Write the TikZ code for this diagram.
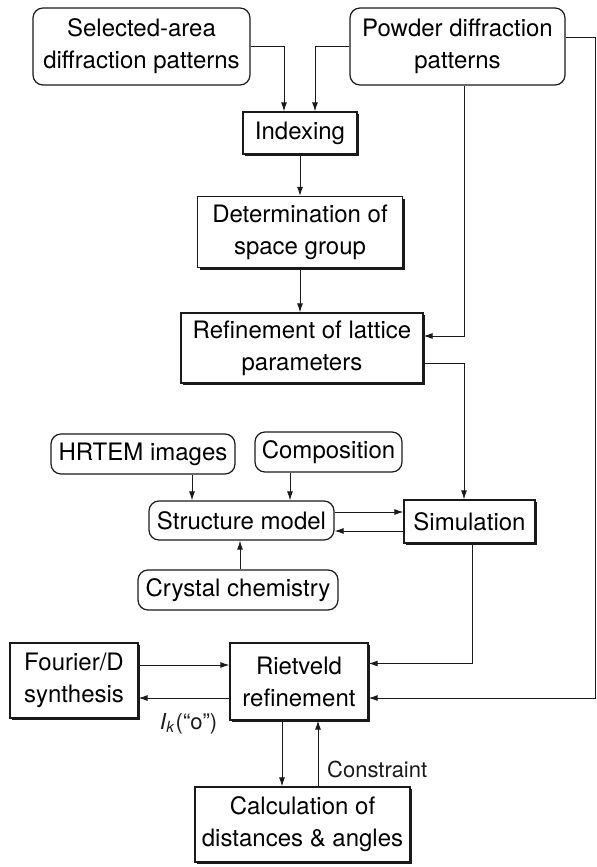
\documentclass[tikz,border=0pt]{standalone}
\usepackage{fontspec}
\setmainfont{TeX Gyre Heros}
\usetikzlibrary{arrows.meta, positioning, shadows}
\definecolor{inkblack}{HTML}{1A1A1A}

\tikzset{
  roundbox/.style={draw=inkblack, rounded corners=5pt, line width=0.6pt, fill=white,
    align=center, inner sep=0pt, font=\fontsize{12}{16}\selectfont},
  sharpbox/.style={draw=inkblack, line width=0.6pt, fill=white,
    align=center, inner sep=0pt, font=\fontsize{12}{16}\selectfont,
    drop shadow={shadow xshift=1.1pt, shadow yshift=-1.1pt, fill=inkblack, opacity=1}},
  flow/.style={draw=inkblack, line width=0.5pt, -{Latex[length=4.5pt, width=3pt]}},
  wire/.style={draw=inkblack, line width=0.5pt},
  lbl/.style={font=\fontsize{11}{13}\selectfont, text=inkblack}
}

\begin{document}
\begin{tikzpicture}[x=0.5pt, y=-0.5pt]
  \useasboundingbox (0,0) rectangle (597,867);

  % inputs
  \node[roundbox, minimum width=108.5pt, minimum height=38.5pt] (saed) at (141.5,46.5) {Selected-area\\diffraction patterns};
  \node[roundbox, minimum width=107.5pt, minimum height=38.5pt] (powder) at (457.5,46.5) {Powder diffraction\\patterns};

  % lattice chain
  \node[sharpbox, minimum width=57pt, minimum height=21pt] (index) at (300,133) {Indexing};
  \node[sharpbox, minimum width=102.5pt, minimum height=35.5pt] (spgroup) at (300,232) {Determination of\\space group};
  \node[sharpbox, minimum width=121pt, minimum height=35pt] (lattice) at (302,348) {Refinement of lattice\\parameters};

  % model
  \node[roundbox, minimum width=92pt, minimum height=20pt] (hrtem) at (143,454) {HRTEM images};
  \node[roundbox, minimum width=73.5pt, minimum height=20pt] (compo) at (328.5,452) {Composition};
  \node[roundbox, minimum width=92.5pt, minimum height=19.5pt] (struct) at (241.5,520.5) {Structure model};
  \node[sharpbox, minimum width=65.5pt, minimum height=21.5pt] (sim) at (469.5,521.5) {Simulation};
  \node[roundbox, minimum width=100pt, minimum height=20pt] (crystal) at (238,590) {Crystal chemistry};

  % refinement
  \node[sharpbox, minimum width=64pt, minimum height=37.5pt] (fourier) at (74,680.5) {Fourier/D\\synthesis};
  \node[sharpbox, minimum width=69pt, minimum height=38.5pt] (riet) at (299,681.5) {Rietveld\\refinement};
  \node[sharpbox, minimum width=107.5pt, minimum height=37.5pt] (calc) at (302.5,824.5) {Calculation of\\distances \& angles};

  \coordinate (rightedge) at (595,0);
  \coordinate (rietlow) at ([yshift=-8.25pt]riet.east);

  % top part
  \draw[flow] (saed.east) -| ([xshift=-8pt]index.north);
  \draw[flow] (powder.west) -| ([xshift=7.5pt]index.north);
  \draw[flow] (index) -- (spgroup);
  \draw[flow] (spgroup) -- (lattice.north -| spgroup.south);
  \draw[flow] ([xshift=3.25pt]powder.south) |- ([yshift=6pt]lattice.east);
  \draw[flow] ([yshift=-7.5pt]lattice.east) -| ([xshift=-2.75pt]sim.north);

  % structure model
  \draw[flow] ([xshift=24.5pt]hrtem.south) -- ([xshift=24.5pt]hrtem.south |- struct.north);
  \draw[flow] ([xshift=-19.25pt]compo.south) -- ([xshift=-19.25pt]compo.south |- struct.north);
  \draw[flow] ([xshift=1pt]crystal.north) -- ([xshift=1pt]crystal.north |- struct.south);
  \draw[flow] ([yshift=4.25pt]struct.east) -- ([yshift=4.25pt]struct.east -| sim.west);
  \draw[flow] ([yshift=-4.75pt]sim.west) -- ([yshift=-4.75pt]sim.west -| struct.east);

  % into Rietveld
  \draw[flow] ([xshift=1.25pt]sim.south) |- ([yshift=9pt]riet.east);
  \draw[flow] ([yshift=4.75pt]powder.east) -- ([yshift=4.75pt]powder.east -| rightedge)
    -- (rightedge |- rietlow) -- (rietlow);
  \draw[flow] ([yshift=7.75pt]fourier.east) -- ([yshift=7.75pt]fourier.east -| riet.west);
  \draw[flow] ([yshift=-8.25pt]riet.west) -- ([yshift=-8.25pt]riet.west -| fourier.east)
    node[lbl, pos=0.45, below=4pt] {\textit{I}\textsubscript{\textit{k}}(“o”)};

  % constraint loop
  \draw[flow] ([xshift=-8.5pt]riet.south) -- ([xshift=-8.5pt]riet.south |- calc.north);
  \draw[flow] ([xshift=9.5pt]riet.south |- calc.north) -- ([xshift=9.5pt]riet.south)
    node[lbl, pos=0.25, right=1pt] {Constraint};
\end{tikzpicture}
\end{document}
